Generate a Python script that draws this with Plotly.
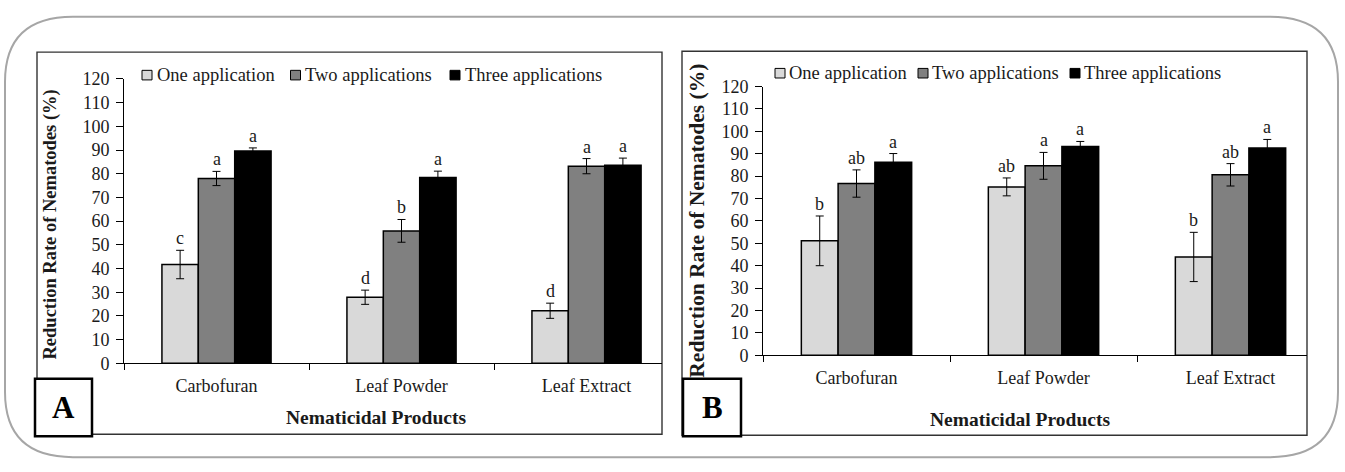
import plotly.graph_objects as go

# ---------------- data ----------------
categories = ["Carbofuran", "Leaf Powder", "Leaf Extract"]
series_names = ["One application", "Two applications", "Three applications"]

a_one = [41.7, 27.9, 22.2]
a_two = [78.0, 55.9, 83.2]
a_three = [89.6, 78.4, 83.6]
a_one_err = [6.0, 3.0, 3.2]
a_two_err = [3.0, 4.8, 3.2]
a_three_err = [1.3, 2.7, 3.0]
a_one_lab = ["c", "d", "d"]
a_two_lab = ["a", "b", "a"]
a_three_lab = ["a", "a", "a"]

b_one = [51.1, 75.2, 43.9]
b_two = [76.7, 84.6, 80.6]
b_three = [86.2, 93.3, 92.6]
b_one_err = [11.1, 4.0, 11.0]
b_two_err = [6.1, 6.0, 5.0]
b_three_err = [3.9, 2.2, 3.8]
b_one_lab = ["b", "ab", "b"]
b_two_lab = ["ab", "a", "ab"]
b_three_lab = ["a", "a", "a"]

y_ticks = list(range(0, 121, 10))

# ---------------- style ----------------
W, H = 1345, 472
FONT = "Liberation Serif, Times New Roman, serif"
TXT = "#1a1a1a"
COLORS = ["#d9d9d9", "#808080", "#000000"]
BARGAP = 0.41


def px(x):
    return x / W


def py(y):
    return 1 - y / H


fig = go.Figure()

panels = [
    dict(xa="x", ya="y",
         vals=[a_one, a_two, a_three], errs=[a_one_err, a_two_err, a_three_err],
         labs=[a_one_lab, a_two_lab, a_three_lab]),
    dict(xa="x2", ya="y2",
         vals=[b_one, b_two, b_three], errs=[b_one_err, b_two_err, b_three_err],
         labs=[b_one_lab, b_two_lab, b_three_lab]),
]

annotations = []
for p in panels:
    for j in range(3):
        fig.add_trace(go.Bar(
            x=categories, y=p["vals"][j], name=series_names[j],
            xaxis=p["xa"], yaxis=p["ya"],
            marker=dict(color=COLORS[j], line=dict(color="#000000", width=1.5)),
            error_y=dict(type="data", array=p["errs"][j], visible=True,
                         color="#000000", thickness=1, width=4),
            showlegend=False,
        ))
        off = (j - 1) * (1 - BARGAP) / 3
        for i in range(3):
            annotations.append(dict(
                x=i + off, y=p["vals"][j][i] + p["errs"][j][i],
                xref=p["xa"], yref=p["ya"], text=p["labs"][j][i],
                showarrow=False, yanchor="bottom", yshift=0,
                font=dict(family=FONT, size=18, color=TXT)))

common_y = dict(range=[0, 120], tickvals=y_ticks, ticks="outside", ticklen=7,
                tickcolor="#000", showline=True, linecolor="#000", linewidth=1,
                showgrid=False, zeroline=False, ticklabelstandoff=3,
                tickfont=dict(family=FONT, size=18, color=TXT))
common_x = dict(type="category", categoryorder="array", categoryarray=categories,
                tickson="boundaries", ticks="outside", ticklen=6, tickcolor="#000",
                showline=True, linecolor="#000", linewidth=1, showgrid=False,
                zeroline=False, ticklabelstandoff=6,
                tickfont=dict(family=FONT, size=18, color=TXT))
in_y = dict(range=[0, 120], tickvals=y_ticks, ticks="inside", ticklen=4,
            tickcolor="#000", showticklabels=False, showline=False,
            showgrid=False, zeroline=False)
in_x = dict(type="linear", tickvals=[-0.5, 0.5, 1.5], ticks="inside", ticklen=6,
            tickcolor="#000", showticklabels=False, showline=False,
            showgrid=False, zeroline=False)

fig.update_layout(
    width=W, height=H, margin=dict(l=0, r=0, t=0, b=0),
    paper_bgcolor="white", plot_bgcolor="rgba(0,0,0,0)",
    barmode="group", bargap=BARGAP, bargroupgap=0,
    xaxis=dict(domain=[px(124), px(662)], range=[-0.5, 2.408], anchor="y", **common_x),
    yaxis=dict(domain=[py(369), py(72)], anchor="x", **common_y),
    xaxis2=dict(domain=[px(763), px(1307)], range=[-0.5, 2.409], anchor="y2", **common_x),
    yaxis2=dict(domain=[py(360.5), py(80)], anchor="x2", **common_y),
    xaxis3=dict(overlaying="x", anchor="y", range=[-0.5, 2.408], **in_x),
    yaxis3=dict(overlaying="y", anchor="x", **in_y),
    xaxis4=dict(overlaying="x2", anchor="y2", range=[-0.5, 2.409], **in_x),
    yaxis4=dict(overlaying="y2", anchor="x2", **in_y),
)

shapes = []
# outer rounded border
x0, x1, y0, y1 = px(5), px(1338), py(467), py(7)
rx, ry = 68 / W, 68 / H
path = (f"M{x0 + rx},{y1} L{x1 - rx},{y1} Q{x1},{y1} {x1},{y1 - ry} "
        f"L{x1},{y0 + ry} Q{x1},{y0} {x1 - rx},{y0} L{x0 + rx},{y0} "
        f"Q{x0},{y0} {x0},{y0 + ry} L{x0},{y1 - ry} Q{x0},{y1} {x0 + rx},{y1} Z")
shapes.append(dict(type="path", xref="paper", yref="paper", path=path,
                   line=dict(color="#a6a6a6", width=2), layer="below"))
# panel frames
for (l, t, r, b) in [(37, 44, 662, 443), (682, 43, 1307, 444)]:
    shapes.append(dict(type="rect", xref="paper", yref="paper",
                       x0=px(l), x1=px(r), y0=py(b), y1=py(t),
                       line=dict(color="#333333", width=1.4), layer="below"))
# panel letter boxes
for (l, t, r, b, letter) in [(35, 385, 92, 445, "A"), (683, 385, 741, 445, "B")]:
    shapes.append(dict(type="rect", xref="paper", yref="paper",
                       x0=px(l), x1=px(r), y0=py(b), y1=py(t),
                       line=dict(color="#000", width=2.5), fillcolor="white",
                       layer="above"))
    annotations.append(dict(x=px((l + r) / 2), y=py((t + b) / 2), xref="paper",
                            yref="paper", text=f"<b>{letter}</b>", showarrow=False,
                            xanchor="center", yanchor="middle",
                            font=dict(family=FONT, size=31, color="#000")))

# legends (one per panel)
legend_pos = [
    (68, [142, 290.5, 450], [155, 303, 463]),
    (66, [775, 918, 1070], [787, 930, 1082]),
]
for cy, sq_x, tx in legend_pos:
    for j in range(3):
        shapes.append(dict(type="rect", xref="paper", yref="paper",
                           x0=px(sq_x[j]), x1=px(sq_x[j] + 10),
                           y0=py(cy + 5), y1=py(cy - 5),
                           fillcolor=COLORS[j], line=dict(color="#000", width=1)))
        annotations.append(dict(x=px(tx[j]), y=py(cy), xref="paper", yref="paper",
                                text=series_names[j], showarrow=False,
                                xanchor="left", yanchor="middle",
                                font=dict(family=FONT, size=18.5, color=TXT)))

# axis titles
for (cx, cy, size) in [(51, 224, 18.5), (697, 220, 21.5)]:
    annotations.append(dict(x=px(cx), y=py(cy), xref="paper", yref="paper",
                            text="<b>Reduction Rate of Nematodes (%)</b>",
                            showarrow=False, textangle=-90,
                            xanchor="center", yanchor="middle",
                            font=dict(family=FONT, size=size, color=TXT)))
for (cx, cy) in [(376, 426), (1020, 428)]:
    annotations.append(dict(x=px(cx), y=py(cy), xref="paper", yref="paper",
                            text="<b>Nematicidal Products</b>", showarrow=False,
                            xanchor="center", yanchor="middle",
                            font=dict(family=FONT, size=19.5, color=TXT)))

fig.update_layout(shapes=shapes, annotations=annotations)
fig.write_html("out.html")
